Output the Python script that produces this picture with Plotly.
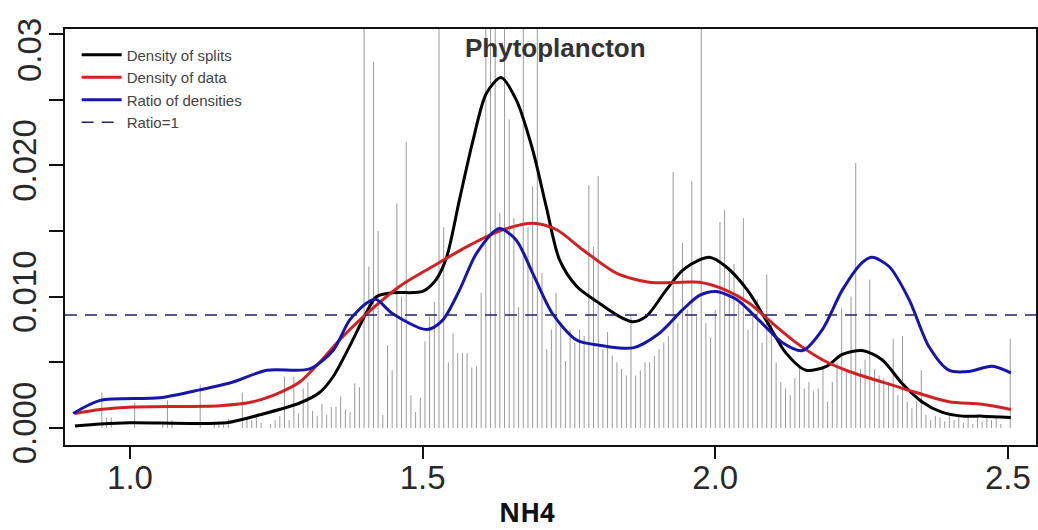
import plotly.graph_objects as go

# ---------------- data ----------------
# grey spikes: position on NH4 axis and height (density, in thousandths)
spike_x = [0.952, 0.960, 0.968, 1.008, 1.056, 1.064, 1.072, 1.120, 1.144, 1.152,
           1.160, 1.168, 1.192, 1.200, 1.208, 1.216, 1.224, 1.240, 1.248, 1.256,
           1.264, 1.272, 1.280, 1.288, 1.296, 1.304, 1.312, 1.320, 1.328, 1.336,
           1.344, 1.352, 1.360, 1.368, 1.376, 1.384, 1.392, 1.400, 1.408, 1.416,
           1.424, 1.432, 1.440, 1.448, 1.456, 1.464, 1.472, 1.480, 1.488, 1.496,
           1.504, 1.512, 1.520, 1.528, 1.536, 1.544, 1.552, 1.560, 1.568, 1.576,
           1.584, 1.592, 1.600, 1.608, 1.616, 1.624, 1.632, 1.640, 1.648, 1.656,
           1.664, 1.672, 1.680, 1.688, 1.696, 1.704, 1.712, 1.720, 1.728, 1.736,
           1.744, 1.752, 1.760, 1.768, 1.776, 1.784, 1.792, 1.800, 1.808, 1.816,
           1.824, 1.832, 1.840, 1.848, 1.856, 1.864, 1.872, 1.880, 1.888, 1.896,
           1.904, 1.912, 1.920, 1.928, 1.936, 1.944, 1.952, 1.960, 1.968, 1.976,
           1.984, 1.992, 2.000, 2.008, 2.016, 2.024, 2.032, 2.040, 2.048, 2.056,
           2.064, 2.072, 2.080, 2.088, 2.096, 2.104, 2.112, 2.120, 2.128, 2.136,
           2.144, 2.152, 2.160, 2.168, 2.176, 2.184, 2.192, 2.200, 2.208, 2.216,
           2.224, 2.232, 2.240, 2.248, 2.256, 2.264, 2.272, 2.280, 2.288, 2.296,
           2.304, 2.312, 2.320, 2.328, 2.336, 2.344, 2.352, 2.360, 2.368, 2.376,
           2.384, 2.392, 2.400, 2.408, 2.416, 2.424, 2.432, 2.440, 2.448, 2.456,
           2.464, 2.472, 2.480, 2.488, 2.504]
spike_h_milli = [2.7, 0.8, 0.8, 1.9, 0.5, 2.1, 0.6, 3.3, 0.3, 0.5,
                 0.4, 0.7, 2.7, 0.8, 0.6, 1.0, 0.4, 0.3, 0.6, 0.9,
                 3.9, 0.6, 3.9, 1.1, 3.0, 3.5, 1.3, 0.9, 1.8, 1.0,
                 1.6, 1.6, 2.4, 1.4, 1.2, 3.4, 3.1, 31.0, 12.3, 27.9,
                 15.0, 1.0, 6.3, 4.4, 17.1, 10.0, 21.8, 2.5, 1.2, 2.3,
                 6.6, 8.5, 9.6, 31.0, 15.3, 5.0, 7.2, 5.7, 5.7, 5.7,
                 4.6, 4.7, 10.3, 31.0, 31.0, 31.0, 16.4, 31.0, 23.5, 16.0,
                 9.2, 31.0, 15.3, 18.4, 31.0, 11.8, 6.0, 7.5, 10.3, 8.0,
                 5.1, 7.5, 6.5, 7.5, 7.0, 18.5, 13.8, 19.2, 6.0, 7.3,
                 5.5, 5.0, 4.5, 4.0, 8.5, 4.0, 4.4, 5.0, 5.0, 5.5,
                 6.0, 6.5, 7.0, 19.5, 8.0, 14.1, 9.0, 18.8, 8.5, 31.0,
                 8.0, 6.9, 9.0, 15.7, 16.6, 12.3, 12.5, 9.5, 16.0, 7.5,
                 8.5, 9.8, 6.5, 11.7, 8.2, 5.0, 3.5, 3.0, 2.5, 3.8,
                 4.7, 3.0, 3.5, 2.8, 3.0, 4.5, 2.0, 3.5, 5.0, 9.1,
                 4.5, 10.0, 20.2, 4.5, 5.2, 11.3, 4.5, 4.0, 3.8, 3.5,
                 6.8, 2.5, 7.0, 2.0, 1.5, 2.0, 4.4, 1.0, 0.6, 0.9,
                 0.8, 0.5, 0.9, 0.6, 1.0, 0.4, 0.8, 0.3, 0.9, 0.5,
                 0.8, 0.6, 0.9, 0.3, 6.8]

splits_x = [0.906, 0.95, 1.0, 1.165, 1.222, 1.29, 1.324, 1.347, 1.375, 1.404,
            1.421, 1.449, 1.5, 1.523, 1.541, 1.563, 1.586, 1.609, 1.634, 1.66,
            1.688, 1.711, 1.734, 1.763, 1.802, 1.836, 1.859, 1.882, 1.916, 1.944,
            1.973, 1.99, 2.018, 2.055, 2.087, 2.121, 2.155, 2.19, 2.217, 2.251,
            2.285, 2.319, 2.353, 2.387, 2.422, 2.456, 2.505]
splits_y = [0.00015, 0.0003, 0.0004, 0.0004, 0.0010, 0.0019, 0.0027, 0.0039, 0.0062, 0.0088,
            0.0100, 0.0103, 0.0104, 0.0113, 0.0130, 0.0174, 0.0219, 0.0255, 0.0267, 0.0250,
            0.0212, 0.0169, 0.0128, 0.0108, 0.0095, 0.0085, 0.0081, 0.0085, 0.0105, 0.0120,
            0.0128, 0.0130, 0.0123, 0.0105, 0.0082, 0.0057, 0.0044, 0.0047, 0.0056, 0.0059,
            0.0052, 0.0034, 0.0020, 0.0012, 0.0009, 0.0009, 0.0008]

data_x = [0.906, 0.949, 1.005, 1.154, 1.21, 1.256, 1.29, 1.324, 1.358, 1.392,
          1.461, 1.517, 1.575, 1.631, 1.688, 1.729, 1.773, 1.831, 1.887, 1.944,
          1.973, 2.018, 2.058, 2.097, 2.138, 2.183, 2.229, 2.285, 2.343, 2.399,
          2.456, 2.505]
data_y = [0.0011, 0.0014, 0.0016, 0.0017, 0.0020, 0.0027, 0.0035, 0.0050, 0.0067, 0.0082,
          0.0108, 0.0123, 0.0138, 0.0150, 0.0156, 0.0151, 0.0136, 0.0118, 0.0111, 0.0111,
          0.0111, 0.0105, 0.0095, 0.0080, 0.0065, 0.0052, 0.0043, 0.0035, 0.0027, 0.0020,
          0.0018, 0.0014]

ratio_x = [0.903, 0.949, 1.051, 1.119, 1.176, 1.234, 1.307, 1.347, 1.375, 1.404,
           1.42, 1.449, 1.507, 1.534, 1.563, 1.592, 1.631, 1.66, 1.688, 1.722,
           1.763, 1.802, 1.859, 1.904, 1.944, 1.973, 2.001, 2.036, 2.075, 2.115,
           2.149, 2.183, 2.217, 2.251, 2.268, 2.297, 2.331, 2.365, 2.399, 2.433,
           2.473, 2.505]
ratio_y = [0.0011, 0.0021, 0.0023, 0.0029, 0.0035, 0.0044, 0.0045, 0.0059, 0.0082, 0.0095,
           0.0098, 0.0087, 0.0075, 0.0082, 0.0105, 0.0133, 0.0152, 0.0143, 0.0118, 0.0087,
           0.0067, 0.0063, 0.0061, 0.0072, 0.0090, 0.0101, 0.0104, 0.0098, 0.0082, 0.0065,
           0.0059, 0.0075, 0.0105, 0.0126, 0.0130, 0.0123, 0.0098, 0.0062, 0.0044, 0.0043,
           0.0047, 0.0042]

ratio_one_level = 0.0086

x_tick_vals = [1.0, 1.5, 2.0, 2.5]
x_tick_text = ["1.0", "1.5", "2.0", "2.5"]
y_tick_vals = [0.0, 0.005, 0.010, 0.015, 0.020, 0.025, 0.030]
y_tick_text = ["0.000", "", "0.010", "", "0.020", "", ""]
y_top_label = "0.03"   # drawn separately: in the picture it sits below its tick

legend_names = ["Density of splits", "Density of data", "Ratio of densities", "Ratio=1"]
title_text = "Phytoplancton"
x_title = "NH4"

# ---------------- figure ----------------
fig = go.Figure()

# grey spikes as one line trace with gaps
sx, sy = [], []
for xv, hv in zip(spike_x, spike_h_milli):
    sx += [xv, xv, None]
    sy += [0.0, hv / 1000.0, None]
fig.add_trace(go.Scatter(x=sx, y=sy, mode="lines", line=dict(color="#9a9a9a", width=1),
                         showlegend=False, hoverinfo="skip"))

fig.add_trace(go.Scatter(x=splits_x, y=splits_y, mode="lines", name=legend_names[0],
                         line=dict(color="#000000", width=3, shape="spline", smoothing=0.8)))
fig.add_trace(go.Scatter(x=data_x, y=data_y, mode="lines", name=legend_names[1],
                         line=dict(color="#d02222", width=3, shape="spline", smoothing=0.8)))
fig.add_trace(go.Scatter(x=ratio_x, y=ratio_y, mode="lines", name=legend_names[2],
                         line=dict(color="#1616aa", width=3, shape="spline", smoothing=0.8)))
# legend entry for the dashed reference line
fig.add_trace(go.Scatter(x=[None], y=[None], mode="lines", name=legend_names[3],
                         line=dict(color="#22226e", width=1.5, dash="12px,8px")))

fig.add_shape(type="line", xref="paper", x0=0, x1=1, yref="y",
              y0=ratio_one_level, y1=ratio_one_level,
              line=dict(color="#22226e", width=1.5, dash="12px,8px"), layer="above")

axis_font = dict(family="Liberation Sans, Arial, sans-serif", size=33, color="#2a2a2a")

fig.update_xaxes(range=[0.889, 2.548], tickvals=x_tick_vals, ticktext=x_tick_text,
                 ticks="outside", ticklen=12, tickwidth=1.5, tickcolor="#111",
                 showline=True, linecolor="#111", linewidth=1.5, mirror=True,
                 showgrid=False, zeroline=False, tickfont=axis_font, automargin=False,
                 ticklabeloverflow="allow", ticklabelstandoff=-9)
fig.update_yaxes(range=[-0.0013, 0.0304], tickvals=y_tick_vals, ticktext=y_tick_text,
                 ticks="outside", ticklen=14, tickwidth=1.5, tickcolor="#111",
                 showline=True, linecolor="#111", linewidth=1.5, mirror=True,
                 showgrid=False, zeroline=False, tickfont=axis_font, tickangle=-90,
                 automargin=False, ticklabeloverflow="allow")

fig.add_annotation(text=y_top_label, xref="paper", yref="paper",
                   x=-0.037, y=0.9495, xanchor="center", yanchor="middle",
                   textangle=-90, showarrow=False, font=axis_font)
fig.add_annotation(text="<b>" + title_text + "</b>", xref="paper", yref="paper",
                   x=0.505, y=0.955, xanchor="center", yanchor="middle", showarrow=False,
                   font=dict(family="Liberation Sans, Arial, sans-serif", size=26, color="#333"))
fig.add_annotation(text="<b>" + x_title + "</b>", xref="paper", yref="paper",
                   x=0.476, y=-0.162, xanchor="center", yanchor="middle", showarrow=False,
                   font=dict(family="Open Sans, Liberation Sans, sans-serif", size=26, color="#111"))

fig.update_layout(
    width=1038, height=530,
    margin=dict(l=65, r=2, t=29, b=85),
    paper_bgcolor="white", plot_bgcolor="white",
    showlegend=True,
    legend=dict(x=0.012, y=0.977, xanchor="left", yanchor="top",
                bgcolor="rgba(0,0,0,0)", borderwidth=0, itemwidth=40,
                font=dict(family="Liberation Sans, Arial, sans-serif", size=15, color="#444"),
                tracegroupgap=0),
)

fig.write_html("out.html", config={"displayModeBar": False},
               post_script="document.body.style.margin='0';document.body.style.overflow='hidden';")
